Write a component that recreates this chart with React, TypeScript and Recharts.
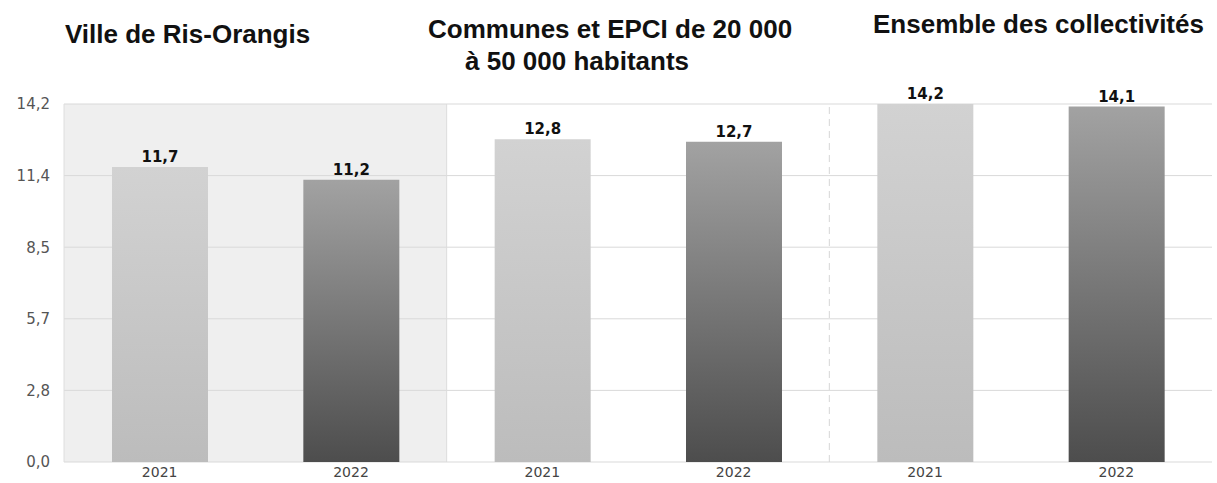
import React from 'react';
import {
  BarChart,
  Bar,
  XAxis,
  YAxis,
  CartesianGrid,
  ReferenceArea,
  ReferenceLine,
  LabelList,
  Cell,
} from 'recharts';

const groups = ['ville', 'communes', 'ensemble'];
const years = ['2021', '2022'];
const values2021 = [11.7, 12.8, 14.2];
const values2022 = [11.2, 12.7, 14.1];
const yTicks = [0, 2.84, 5.68, 8.52, 11.36, 14.2];

const data = groups.flatMap((g, i) => [
  { key: `${g}-${years[0]}`, year: years[0], value: values2021[i] },
  { key: `${g}-${years[1]}`, year: years[1], value: values2022[i] },
]);

const fmt = (v: number) => v.toFixed(1).replace('.', ',');

const titleStyle: React.CSSProperties = {
  position: 'absolute',
  fontFamily: '"Liberation Sans", Arial, sans-serif',
  fontWeight: 700,
  fontSize: 26,
  lineHeight: '30px',
  color: '#111',
  whiteSpace: 'nowrap',
};

const App: React.FC = () => {
  return (
    <div style={{ position: 'absolute', left: 0, top: 0, width: 1217, height: 483, background: '#fff' }}>
      <div style={{ ...titleStyle, left: 65, top: 19 }}>Ville de Ris-Orangis</div>
      <div style={{ ...titleStyle, left: 428, top: 14 }}>Communes et EPCI de 20 000</div>
      <div style={{ ...titleStyle, left: 465, top: 46 }}>à 50 000 habitants</div>
      <div style={{ ...titleStyle, left: 873, top: 9 }}>Ensemble des collectivités</div>
      <BarChart
        width={1217}
        height={483}
        data={data}
        margin={{ top: 104, right: 5, bottom: 1, left: 4 }}
        style={{ position: 'absolute', left: 0, top: 0 }}
      >
        <defs>
          <linearGradient id="g2021" x1="0" y1="0" x2="0" y2="1">
            <stop offset="0%" stopColor="#d2d2d2" />
            <stop offset="100%" stopColor="#bcbcbc" />
          </linearGradient>
          <linearGradient id="g2022" x1="0" y1="0" x2="0" y2="1">
            <stop offset="0%" stopColor="#a2a2a2" />
            <stop offset="100%" stopColor="#4d4d4d" />
          </linearGradient>
        </defs>
        <ReferenceArea
          x1="ville-2021"
          x2="ville-2022"
          y1={0}
          y2={14.2}
          fill="#efefef"
          fillOpacity={1}
          stroke="none"
          zIndex={-200}
        />
        <CartesianGrid vertical={false} stroke="#d9d9d9" zIndex={-100} />
        <ReferenceLine x="ville-2021" position="start" stroke="#dedede" zIndex={-100} />
        <ReferenceLine x="communes-2021" position="start" stroke="#dcdcdc" zIndex={-100} />
        <ReferenceLine
          x="ensemble-2021"
          position="start"
          stroke="#d6d6d6"
          strokeDasharray="7 5"
          zIndex={-100}
        />
        <XAxis
          dataKey="key"
          tickFormatter={(k: string) => k.split('-')[1]}
          axisLine={false}
          tickLine={false}
          tickSize={0}
          tickMargin={5}
          height={20}
          interval={0}
          tick={{ fill: '#444', fontSize: 14, fontFamily: '"DejaVu Sans", sans-serif' }}
        />
        <YAxis
          domain={[0, 14.2]}
          ticks={yTicks}
          tickFormatter={fmt}
          axisLine={false}
          tickLine={false}
          tickSize={0}
          tickMargin={14}
          width={60}
          tick={{ fill: '#555', fontSize: 15, fontFamily: '"DejaVu Sans", sans-serif' }}
        />
        <Bar dataKey="value" barSize={96} isAnimationActive={false}>
          {data.map((d) => (
            <Cell key={d.key} fill={d.year === '2021' ? 'url(#g2021)' : 'url(#g2022)'} />
          ))}
          <LabelList
            dataKey="value"
            position="top"
            offset={5}
            formatter={(v: number) => fmt(v)}
            style={{ fill: '#111', fontSize: 15, fontWeight: 700, fontFamily: '"DejaVu Sans", sans-serif' }}
          />
        </Bar>
      </BarChart>
    </div>
  );
};

export default App;
